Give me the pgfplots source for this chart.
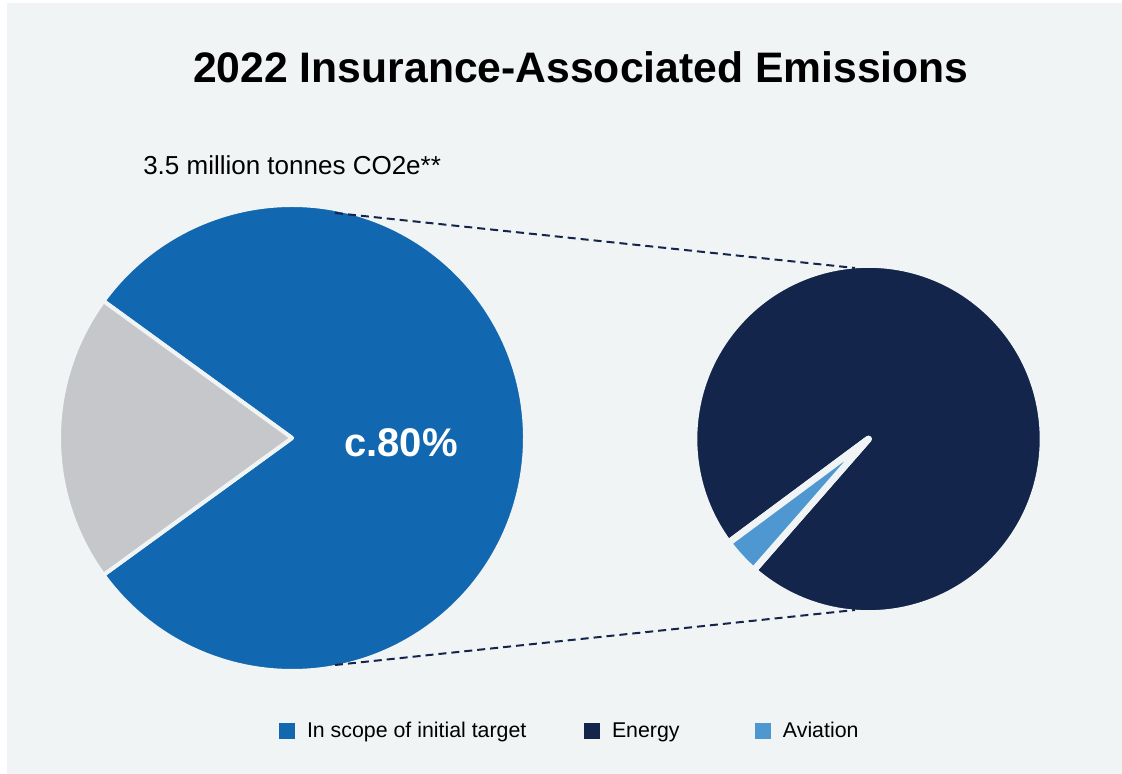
\documentclass[border=0pt]{standalone}
\usepackage{pgfplots}
\pgfplotsset{compat=1.18}
\usepackage{fontspec}
\setmainfont{Liberation Sans}
\definecolor{bgcol}{HTML}{F1F4F5}
\definecolor{scopeblue}{HTML}{1268B0}
\definecolor{navy}{HTML}{13254B}
\definecolor{avblue}{HTML}{4E97D0}
\definecolor{othergray}{HTML}{C6C7CB}
% data (percent shares)
\def\InScope{80}
\def\Other{20}
\def\Energy{96.6}
\def\Aviation{3.4}
\newcommand\pieslice[7]{% cx cy r(pt) start end fill linewidth
  \filldraw[fill=#6, draw=bgcol, line width=#7, line join=round]
   (axis cs:#1,#2) -- ++(#4:#3) arc[start angle=#4, end angle=#5, radius=#3] -- cycle;}
\begin{document}
\begin{tikzpicture}
\begin{axis}[
  width=841.5pt, height=580.5pt, scale only axis,
  xmin=0, xmax=1122, ymin=0, ymax=774,
  hide axis, clip=false,
  legend columns=3,
  legend style={draw=none, fill=none, inner sep=0pt, outer sep=0pt,
    at={(axis cs:279,43)}, anchor=west,
    font=\fontsize{16}{19}\selectfont,
    nodes={inner sep=0pt, outer sep=0pt},
    /tikz/every odd column/.append style={column sep=9pt},
  },
  legend image code/.code={\fill[#1, draw=none] (0pt,-6pt) rectangle (12pt,6pt);},
]
% background
\fill[white] (axis cs:0,0) rectangle (axis cs:1122,774);
\fill[bgcol] (axis cs:7,0) rectangle (axis cs:1122,771);

\addlegendimage{fill=scopeblue, draw=none}
\addlegendentry{\makebox[207.75pt][l]{In scope of initial target}}
\addlegendimage{fill=navy, draw=none}
\addlegendentry{\makebox[107.25pt][l]{Energy}}
\addlegendimage{fill=avblue, draw=none}
\addlegendentry{Aviation}

% left pie
\pgfmathsetmacro\ga{180-\Other*1.8}
\pgfmathsetmacro\gb{180+\Other*1.8}
\pgfmathsetmacro\bb{\gb+\InScope*3.6}
\pieslice{292}{336}{174.75pt}{\gb}{\bb}{scopeblue}{3pt}
\pieslice{292}{336}{174.75pt}{\ga}{\gb}{othergray}{3pt}

% right pie
\pgfmathsetmacro\aa{222.7-\Aviation*1.8}
\pgfmathsetmacro\ab{222.7+\Aviation*1.8}
\pgfmathsetmacro\eb{\ab+\Energy*3.6}
\pieslice{868.5}{335}{130.9pt}{\ab}{\eb}{navy}{5pt}
\pieslice{868.5}{335}{130.9pt}{\aa}{\ab}{avblue}{5pt}

% connector lines
\addplot[navy, line width=1.5pt, dash pattern=on 6pt off 3.75pt] coordinates {(335,561) (855,506)};
\addplot[navy, line width=1.5pt, dash pattern=on 6pt off 3.75pt] coordinates {(335,109) (855,164)};

% texts
\node[anchor=base, font=\bfseries\fontsize{32}{36}\selectfont] at (axis cs:581,691) {2022 Insurance-Associated Emissions};
\node[anchor=base west, inner sep=0pt, font=\fontsize{19.5}{22}\selectfont] at (axis cs:143,599) {3.5 million tonnes CO2e**};
\node[anchor=base, text=white, font=\bfseries\fontsize{30}{34}\selectfont] at (axis cs:401,317) {c.80\%};
\end{axis}
\end{tikzpicture}
\end{document}
